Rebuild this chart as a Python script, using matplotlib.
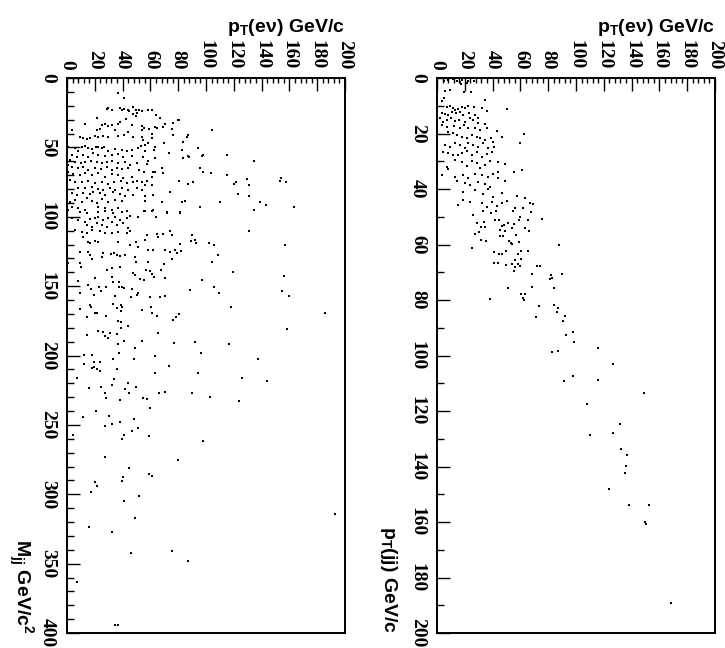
import matplotlib
matplotlib.use("Agg")
import matplotlib.pyplot as plt
from matplotlib.ticker import MultipleLocator

## Data

# left panel: pT(e nu) vs Mjj
mjj_pt_enu = [
    36.5, 40.8, 29.5, 28.5, 32.1, 38.1, 39.3, 40.8, 43.6, 44.8, 47.7, 49.4, 51.8, 54.2, 58.0, 61.4,
    47.7, 49.9, 50.6, 63.8, 66.9, 21.6, 12.9, 27.3, 25.4, 29.7, 32.1, 36.5, 38.1, 42.4, 46.5, 54.2,
    55.4, 70.5, 69.3, 76.5, 79.6, 80.8, 75.8, 63.3, 104.1, 3.4, 21.8, 23.7, 34.5, 53.7, 59.2, 61.4,
    64.5, 44.1, 47.2, 9.4, 11.8, 14.1, 16.5, 20.1, 22.5, 26.1, 29.7, 36.9, 41.2, 53.7, 54.9, 61.4,
    58.5, 76.5, 86.1, 87.3, 83.7, 70.0, 56.1, 63.3, 1.0, 5.8, 8.2, 10.6, 12.9, 15.3, 17.7, 20.6,
    22.5, 25.4, 26.9, 29.7, 34.5, 39.3, 43.4, 46.5, 51.3, 53.2, 56.1, 62.8, 73.4, 82.5, 83.7, 86.8,
    87.8, 94.5, 96.9, 98.1, 114.9, 3.4, 7.0, 11.8, 15.3, 18.9, 22.5, 27.3, 32.1, 36.9, 40.5, 46.5,
    54.9, 58.5, 63.3, 2.2, 5.8, 10.1, 12.9, 17.3, 21.3, 24.9, 28.5, 32.1, 36.9, 41.7, 45.3, 50.1,
    57.3, 0.5, 3.8, 8.2, 11.8, 15.3, 20.1, 24.5, 28.5, 32.1, 35.7, 39.8, 44.1, 51.8, 55.6, 62.1,
    68.1, 95.7, 98.1, 103.6, 115.3, 1.0, 4.6, 9.4, 12.9, 17.7, 22.5, 27.3, 32.1, 36.9, 40.5, 46.5,
    50.1, 53.7, 57.3, 61.4, 63.3, 69.3, 80.6, 87.3, 90.9, 2.2, 5.8, 10.6, 15.3, 20.1, 24.9, 29.7,
    34.1, 38.8, 42.9, 47.7, 56.1, 8.2, 12.9, 17.7, 22.5, 26.1, 30.9, 34.5, 39.3, 44.1, 50.1, 53.7,
    61.4, 74.1, 3.4, 7.0, 11.8, 16.5, 18.9, 23.7, 27.3, 33.3, 38.1, 41.7, 47.7, 56.1, 62.1, 2.2,
    5.8, 10.6, 14.1, 17.7, 21.3, 24.9, 29.7, 34.5, 39.3, 56.1, 68.1, 82.5, 84.9, 110.1, 3.4, 8.2,
    12.9, 22.5, 27.3, 32.1, 36.9, 56.1, 62.1, 71.7, 81.3, 95.7, 0.5,
    134.5, 120.1, 121.6, 129.5, 130.9, 154.0, 153.2, 157.6, 123.0, 130.9, 138.8, 143.2, 134.5,
    163.3, 130.9, 156.8, 156.1, 154.7, 159.7, 185.6, 158.3,
    9.4, 14.1, 22.5, 27.3, 33.3, 39.3, 42.9, 55.6, 61.4, 71.7, 81.3, 50.8, 63.8, 3.4, 8.2, 12.9,
    16.5, 20.1, 22.5, 26.1, 29.7, 34.5, 38.1, 42.9, 45.3, 14.1, 17.7, 21.3, 24.9, 28.5, 32.1, 35.7,
    40.5, 44.1, 5.8, 10.6, 14.1, 17.7, 23.7, 27.3, 32.1, 36.9, 42.9, 45.3, 57.3, 64.5, 65.7, 69.3,
    74.1, 75.3, 89.7, 89.2, 92.1, 92.8, 102.2, 106.0, 11.8, 15.3, 20.1, 22.5, 16.5, 36.9, 45.3, 49.4,
    50.8, 56.1, 58.5, 62.1, 70.5, 74.1, 77.7, 81.3, 82.0, 108.9, 9.4, 15.3, 16.5, 17.7, 24.9, 26.1,
    31.7, 34.1, 35.7, 38.1, 41.7, 48.9, 49.4, 58.5, 69.5, 75.8, 78.9, 104.1, 0.5, 9.4, 10.1, 28.5,
    32.1, 38.1, 47.7, 48.9, 56.8, 59.7, 60.9, 67.6, 52.5, 55.6, 62.8, 70.5, 97.4, 119.2, 8.2, 20.1,
    32.1, 32.9, 37.6, 37.4, 39.3, 41.2, 15.3, 17.3, 23.0, 24.5, 27.8, 46.5, 50.1, 51.3, 59.7, 66.9,
    70.5, 88.7, 105.8, 109.4, 9.4, 19.7, 34.5, 46.0, 32.9, 35.7, 38.6, 38.8, 39.8, 53.7, 60.4, 61.4,
    64.5, 76.5, 78.4, 80.6, 16.5, 17.3, 9.4, 14.1, 20.1, 21.3, 28.1, 117.7, 36.5, 38.8, 38.8, 44.1,
    65.7, 14.1, 22.1, 26.1, 27.3, 29.3, 30.9, 36.2, 36.5, 41.2, 54.2, 48.9, 77.2, 92.1, 116.8,
    37.4, 96.4, 12.2, 18.0, 63.3, 33.1, 48.2, 137.4, 19.4, 23.7, 12.2, 73.4, 18.0, 19.4, 21.6, 23.7,
    36.0, 63.3, 94.2, 7.2, 33.8, 125.9, 143.9, 43.9, 32.4, 49.6, 15.8, 24.5, 41.7, 27.3, 44.6, 66.2,
    70.5, 89.9, 28.1, 54.7, 57.6, 102.9, 38.1, 123.7, 59.7, 20.9, 11.5, 30.2, 48.2, 38.1, 32.4, 27.3,
    51.1, 46.8, 4.3, 41.0, 59.0, 39.6, 97.8, 27.3, 79.9, 44.6, 59.0, 61.2, 40.3, 20.1, 39.6, 21.6,
    17.3, 41.0, 51.8, 192.8, 48.9, 15.8, 32.4, 75.5, 46.0, 87.1, 7.2, 34.5, 36.7,
]
mjj = [
    11.1, 14.4, 21.9, 22.6, 22.8, 21.9, 23.3, 22.4, 22.8, 23.6, 20.9, 22.8, 22.8, 23.8, 23.3, 23.3,
    26.2, 27.2, 25.2, 26.7, 28.6, 29.1, 32.9, 32.9, 33.9, 34.4, 33.9, 33.4, 32.0, 29.6, 33.9, 34.4,
    36.3, 33.4, 35.1, 32.7, 30.5, 30.5, 36.8, 35.1, 37.5, 37.5, 37.3, 37.0, 37.5, 37.7, 36.8, 40.6,
    35.8, 38.7, 42.3, 42.3, 43.5, 44.0, 43.5, 41.6, 42.3, 41.6, 42.3, 41.6, 41.1, 42.3, 44.7, 43.5,
    47.1, 41.1, 42.3, 41.1, 45.9, 47.1, 48.3, 49.5, 49.5, 50.7, 52.6, 49.8, 48.8, 50.2, 51.2, 49.5,
    49.5, 50.7, 49.5, 52.6, 51.2, 51.9, 52.6, 51.9, 50.2, 48.8, 52.6, 51.9, 54.3, 51.9, 57.9, 56.0,
    56.7, 50.7, 56.0, 55.5, 55.5, 55.5, 56.7, 55.5, 56.7, 54.3, 55.5, 56.0, 55.5, 55.0, 56.7, 56.3,
    56.7, 59.9, 57.9, 59.1, 60.8, 61.5, 60.3, 59.9, 60.8, 61.5, 60.8, 59.9, 61.5, 60.8, 62.7, 61.5,
    62.3, 62.7, 63.9, 65.1, 63.9, 66.3, 64.7, 65.6, 63.9, 66.3, 64.7, 65.6, 64.7, 66.3, 67.5, 68.0,
    65.1, 65.1, 67.5, 68.8, 69.9, 67.5, 69.5, 69.9, 68.8, 69.9, 68.8, 71.2, 69.5, 69.9, 72.4, 71.2,
    74.3, 74.8, 74.3, 71.2, 68.0, 68.8, 74.3, 76.7, 75.2, 73.6, 75.2, 74.8, 74.3, 76.0, 74.8, 76.7,
    75.2, 74.3, 76.0, 75.2, 77.2, 79.6, 79.1, 78.4, 80.0, 80.8, 79.6, 80.8, 79.1, 80.8, 79.6, 80.8,
    77.2, 82.0, 83.2, 84.4, 83.2, 83.9, 82.0, 83.2, 84.4, 82.5, 83.9, 84.9, 84.4, 84.9, 84.4, 89.2,
    88.0, 89.7, 86.8, 88.7, 90.4, 87.3, 89.2, 88.0, 88.7, 88.7, 89.2, 89.2, 88.7, 89.2, 92.8, 94.0,
    95.2, 92.8, 94.0, 95.2, 94.0, 95.9, 95.2, 96.4, 96.9, 92.8, 95.2,
    59.8, 76.4, 75.0, 72.8, 77.1, 72.1, 74.2, 75.0, 83.6, 85.0, 89.4, 91.5, 95.1,
    93.0, 110.3, 120.4, 142.7, 153.5, 157.1, 169.4, 180.9,
    96.3, 97.0, 96.3, 95.8, 97.5, 96.3, 95.8, 95.8, 95.6, 97.0, 97.0, 99.9, 100.4, 101.1, 102.3, 103.5,
    101.8, 101.1, 99.9, 102.3, 101.1, 99.9, 102.3, 101.1, 99.4, 105.9, 107.1, 104.7, 105.9, 107.1, 103.5, 105.9,
    104.7, 108.3, 109.5, 110.7, 111.9, 109.5, 110.0, 111.4, 111.9, 110.7, 111.9, 110.0, 113.1, 112.4, 114.3, 112.4,
    110.0, 113.1, 113.1, 117.2, 116.7, 119.1, 119.1, 120.3, 114.3, 117.9, 117.2, 117.9, 119.1, 117.9, 120.3, 117.9,
    121.5, 116.7, 123.9, 123.9, 123.9, 125.1, 123.9, 119.9, 124.4, 127.6, 125.1, 125.1, 127.6, 130.7, 128.8, 126.3,
    126.8, 125.9, 127.6, 128.0, 127.6, 128.8, 132.4, 132.4, 134.0, 130.7, 126.3, 132.4, 133.6, 133.6, 136.0, 138.4,
    137.2, 136.4, 140.3, 142.0, 138.4, 138.9, 141.3, 138.4, 144.9, 145.6, 143.2, 143.9, 145.6, 139.6, 146.1, 144.4,
    143.2, 146.8, 146.8, 150.9, 150.4, 151.6, 149.2, 152.3, 150.9, 153.3, 150.4, 152.1, 156.4, 154.7, 157.6, 157.6,
    157.1, 152.8, 150.4, 155.2, 155.2, 156.4, 157.1, 158.1, 162.9, 166.0, 163.6, 167.7, 164.8, 167.2, 164.8, 169.6,
    171.5, 174.4, 172.5, 170.3, 163.6, 165.0, 166.7, 172.5, 169.6, 169.1, 171.3, 165.1, 174.9, 175.6, 179.9, 178.8,
    183.6, 185.2, 182.1, 182.8, 186.0, 187.6, 183.6, 184.8, 192.0, 189.6, 189.3, 194.9, 191.2, 190.5, 191.7,
    198.2, 198.2, 199.6, 199.6, 200.4, 202.5, 202.5, 202.5, 204.7, 204.7, 206.1, 207.6, 209.0, 208.3, 209.7, 211.2,
    209.7, 212.6, 212.6, 216.2, 216.9, 216.2, 218.4, 219.8, 221.3, 222.7, 223.4, 222.7, 224.1, 227.0, 227.0, 227.0,
    226.3, 227.0, 230.6, 230.6, 231.4, 229.9, 232.1, 232.8, 237.8, 240.0, 244.3, 243.6, 245.8, 247.9, 249.4, 250.8,
    252.3, 254.4, 257.3, 257.3, 258.0, 260.2, 261.6, 273.2, 275.3, 281.1, 285.4, 286.8, 287.6, 291.2, 290.5, 294.1,
    298.4, 304.9, 301.3, 314.2, 317.1, 323.6, 327.2, 340.9, 342.3, 348.1, 363.2, 394.2, 394.2,
]

# right panel: pT(e nu) vs pT(jj)
ptjj_pt_enu = [
    5.3, 7.7, 11.8, 14.1, 16.5, 17.7, 22.5, 26.9, 17.0, 21.3, 5.8, 9.4, 19.7, 24.2, 5.3, 3.8,
    34.5, 50.1, 7.0, 9.4, 11.8, 12.9, 15.3, 17.7, 20.1, 22.5, 26.9, 32.6, 35.7, 3.4, 5.8, 8.2,
    10.6, 13.4, 16.5, 18.9, 23.0, 27.3, 29.7, 2.2, 4.6, 7.0, 10.1, 12.9, 15.8, 20.1, 23.7, 26.1,
    29.3, 34.5, 3.4, 7.0, 12.5, 16.5, 19.7, 22.5, 27.3, 30.9, 35.7, 42.9, 46.5, 62.8, 8.2, 11.8,
    14.1, 17.7, 21.3, 24.9, 28.5, 30.9, 34.5, 38.8, 40.5, 59.7, 5.8, 9.4, 12.9, 16.5, 20.1, 22.5,
    26.1, 29.3, 33.3, 36.9, 41.2, 4.6, 8.2, 11.8, 15.3, 17.7, 21.3, 24.9, 28.5, 32.1, 35.7, 39.3,
    7.0, 7.7, 12.9, 17.7, 21.3, 24.9, 28.5, 30.9, 34.5, 38.1, 44.1, 48.9, 3.4, 12.9, 18.9, 22.5,
    27.3, 32.1, 36.5, 40.5, 44.1, 48.9, 55.6, 61.4, 14.1, 20.1, 23.7, 29.7, 34.5, 38.1, 44.1, 18.9,
    27.3, 33.3, 36.9, 40.5, 46.5, 57.3, 63.3, 15.3, 18.9, 23.7, 32.1, 35.7, 39.3, 42.9, 46.5, 50.1,
    56.1, 62.1, 66.9, 69.3,
    26.1, 32.9, 38.8, 42.2, 54.9, 67.6, 59.7, 28.5, 34.1, 41.7, 44.6, 46.5, 48.2, 50.8, 55.2, 59.0,
    65.2, 75.8, 31.7, 34.5, 27.3, 30.2, 45.3, 48.9, 54.2, 63.3, 66.4, 45.3, 47.7, 56.6, 31.7, 35.0,
    51.8, 53.2, 54.2, 59.0, 88.0, 25.4, 41.2, 44.6, 46.5, 49.6, 58.5, 60.2, 65.7, 40.8, 43.6, 56.1,
    60.4, 49.4, 54.2, 56.1, 58.5, 59.7, 71.7, 74.3, 55.2, 68.6, 82.3, 90.2, 81.3, 83.0, 50.8, 68.6,
    84.2, 60.4, 63.3, 62.1, 62.8, 38.1, 73.6, 84.4, 87.3, 86.3, 91.8, 71.0, 90.6,
    98.1, 92.6, 98.5, 115.8, 82.7, 86.8, 126.4, 98.1, 91.6, 116.1, 149.1, 107.9, 131.4, 109.8,
    126.6, 132.1, 136.9, 136.0, 135.5, 124.0, 138.4, 152.7, 149.9, 150.1, 168.6,
]
ptjj = [
    1.1, 0.7, 0.4, 1.1, 1.6, 0.7, 1.1, 1.1, 2.3, 1.9, 4.7, 4.3, 4.9, 4.9, 7.3, 8.3,
    7.9, 11.2, 10.3, 10.0, 10.9, 11.5, 11.2, 10.3, 10.7, 10.0, 10.3, 10.9, 11.9, 12.7, 13.1, 13.3,
    12.4, 12.7, 12.1, 13.3, 12.7, 13.3, 14.3, 14.5, 15.7, 15.1, 14.5, 15.5, 15.1, 15.7, 14.5, 15.1,
    16.3, 16.7, 16.9, 17.5, 17.2, 18.1, 16.9, 17.9, 18.1, 18.7, 18.1, 19.1, 21.1, 20.3, 19.3, 19.9,
    20.5, 21.1, 21.7, 20.5, 21.1, 21.7, 22.3, 21.7, 22.9, 23.5, 24.1, 24.7, 23.5, 24.1, 25.1, 23.5,
    24.1, 24.7, 23.5, 25.3, 24.7, 26.5, 27.1, 27.7, 27.7, 27.1, 26.3, 27.7, 26.5, 28.3, 27.5, 26.5,
    32.0, 32.8, 29.5, 30.4, 31.6, 29.9, 30.8, 32.6, 31.4, 29.9, 30.2, 31.1, 35.0, 35.6, 35.0, 36.2,
    34.7, 35.0, 35.6, 34.7, 33.8, 37.1, 34.0, 33.2, 37.1, 38.0, 38.6, 37.4, 38.3, 39.2, 36.2, 41.0,
    40.4, 41.9, 40.0, 42.8, 41.6, 42.4, 43.4, 45.8, 44.0, 44.8, 45.2, 46.4, 44.6, 46.0, 45.2, 44.3,
    46.7, 47.0, 45.2, 45.4,
    49.4, 48.0, 48.6, 47.8, 47.8, 48.2, 50.0, 52.2, 51.8, 51.2, 51.0, 53.4, 53.0, 52.4, 52.6, 51.2,
    51.2, 50.7, 53.8, 53.6, 56.2, 55.4, 54.8, 55.0, 54.2, 54.2, 55.0, 57.0, 57.0, 56.4, 58.2, 58.8,
    58.6, 59.4, 59.9, 59.1, 60.2, 61.4, 62.6, 63.6, 63.6, 62.4, 63.6, 62.3, 62.3, 66.5, 66.6, 65.6,
    65.4, 67.4, 67.1, 68.0, 67.2, 67.7, 67.7, 67.7, 69.6, 70.7, 71.0, 70.7, 72.5, 71.9, 75.5, 75.2,
    75.6, 78.0, 78.0, 79.1, 80.0, 79.8, 82.1, 81.7, 83.0, 84.5, 85.8, 86.3, 87.6,
    91.5, 92.6, 95.0, 97.4, 98.6, 98.5, 103.2, 107.4, 109.3, 108.8, 113.4, 117.5, 124.8, 128.6,
    128.0, 133.6, 136.0, 139.9, 142.5, 148.1, 154.0, 153.7, 160.1, 160.9, 189.1,
]

# ROOT style: bold serif numbers, bold sans axis titles
plt.rcParams["font.family"] = "Liberation Serif"
plt.rcParams["font.weight"] = "bold"
num_font = "Liberation Serif"
title_font = "Liberation Sans"

fig = plt.figure(figsize=(7.25, 6.48), dpi=100)
ax1 = fig.add_axes([67 / 725, 15 / 648, 278 / 725, 555 / 648])
ax2 = fig.add_axes([437 / 725, 15 / 648, 278 / 725, 555 / 648])

panels = [
    (ax1, mjj_pt_enu, mjj, 400, 50, 10),
    (ax2, ptjj_pt_enu, ptjj, 200, 20, 10),
]

for ax, xs, ys, ymax, ymaj, ymin in panels:
    ax.plot(xs, ys, linestyle="none", marker="s", markersize=1.9,
            markeredgewidth=0, color="black")
    ax.set_xlim(0, 200)
    ax.set_ylim(ymax, 0)
    ax.xaxis.set_major_locator(MultipleLocator(20))
    ax.xaxis.set_minor_locator(MultipleLocator(4))
    ax.yaxis.set_major_locator(MultipleLocator(ymaj))
    ax.yaxis.set_minor_locator(MultipleLocator(ymin))
    ax.xaxis.tick_top()
    ax.tick_params(which="both", direction="in", top=True, bottom=False,
                   left=True, right=False, width=1.0, labelsize=14,
                   labelfontfamily=num_font)
    ax.tick_params(which="major", length=9.5)
    ax.tick_params(axis="x", which="minor", length=3.8)
    ax.tick_params(axis="y", which="minor", length=5)
    ax.tick_params(axis="x", which="major", pad=6, labelrotation=-90)
    ax.tick_params(axis="y", which="major", pad=8, labelrotation=-90)
    for lab in ax.get_xticklabels() + ax.get_yticklabels():
        lab.set_fontweight("bold")
    for lab in ax.get_yticklabels():
        lab.set_verticalalignment("center")
    for sp in ax.spines.values():
        sp.set_linewidth(1.4)

    # x axis title above each panel
    ax.text(1.0, 1.0 + 46 / 555, "p$_\\mathregular{T}$(e\u03bd) GeV/c",
            transform=ax.transAxes, ha="right", va="baseline",
            fontfamily=title_font, fontweight="bold", fontsize=14)

ax1.text(-46 / 278, 0.0, r"M$_\mathregular{jj}$ GeV/c$^\mathregular{2}$",
         transform=ax1.transAxes, rotation=-90, ha="center", va="bottom",
         fontfamily=title_font, fontweight="bold", fontsize=14)
ax2.text(-49 / 278, 0.0, r"p$_\mathregular{T}$(jj) GeV/c",
         transform=ax2.transAxes, rotation=-90, ha="center", va="bottom",
         fontfamily=title_font, fontweight="bold", fontsize=14)

plt.savefig("out.png", dpi=100)
